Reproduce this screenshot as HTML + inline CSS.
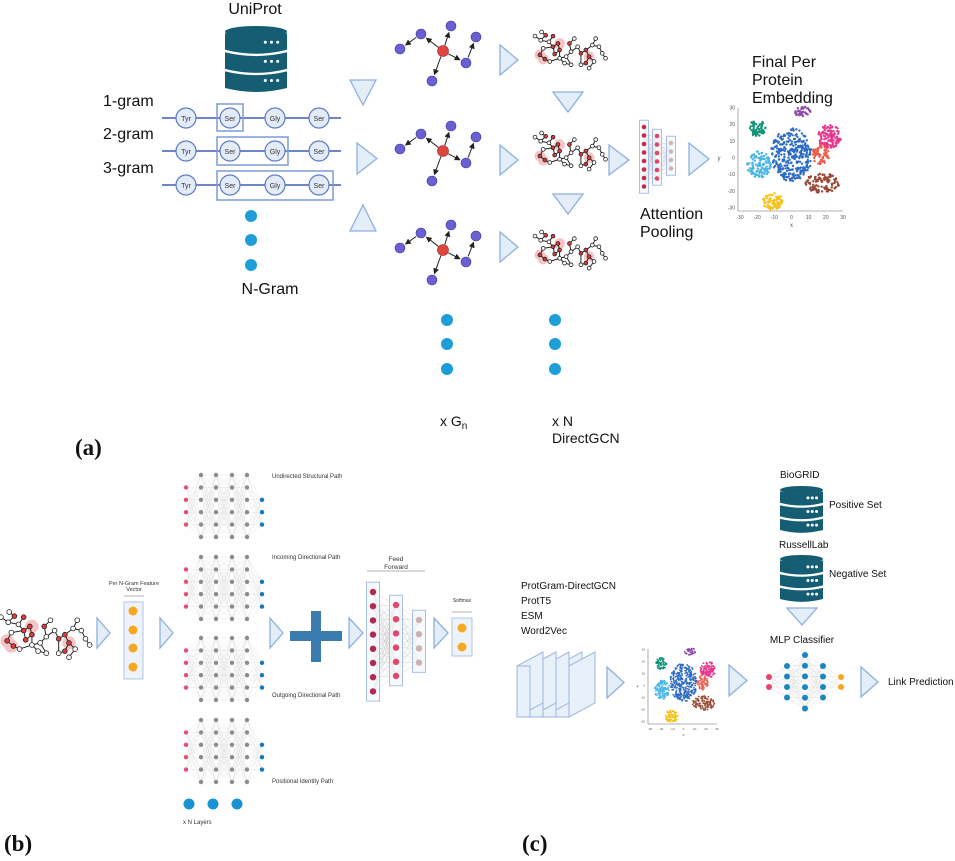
<!DOCTYPE html>
<html><head><meta charset="utf-8"><style>
html,body{margin:0;padding:0;background:#fff;}
svg{display:block;font-family:"Liberation Sans",sans-serif;}
</style></head><body>
<svg id="s" width="955" height="861" viewBox="0 0 955 861" xmlns="http://www.w3.org/2000/svg">
<defs>
<marker id="ar" markerWidth="6" markerHeight="6" refX="5" refY="3" orient="auto"><path d="M0,0 L6,3 L0,6 z" fill="#222"/></marker>
</defs>
<g id="g"></g>
<text x="255" y="14" font-size="16" text-anchor="middle" fill="#111">UniProt</text>
<text x="103" y="106" font-size="16" fill="#111">1-gram</text>
<text x="103" y="139" font-size="16" fill="#111">2-gram</text>
<text x="103" y="173" font-size="16" fill="#111">3-gram</text>
<text x="270" y="294" font-size="16" text-anchor="middle" fill="#111">N-Gram</text>
<text x="752" y="67" font-size="16" fill="#111">Final Per</text>
<text x="752" y="85" font-size="16" fill="#111">Protein</text>
<text x="752" y="103" font-size="16" fill="#111">Embedding</text>
<text x="640" y="219" font-size="16" fill="#111">Attention</text>
<text x="640" y="237" font-size="16" fill="#111">Pooling</text>
<text x="440" y="426" font-size="14" fill="#111">x G<tspan font-size="10" dy="3">n</tspan></text>
<text x="552" y="426" font-size="14" fill="#111">x N</text>
<text x="552" y="443" font-size="14" fill="#111">DirectGCN</text>
<text x="75" y="455" font-size="23" font-weight="bold" font-family="Liberation Serif,serif" fill="#111">(a)</text>
<text x="4" y="851" font-size="23" font-weight="bold" font-family="Liberation Serif,serif" fill="#111">(b)</text>
<text x="522" y="851" font-size="23" font-weight="bold" font-family="Liberation Serif,serif" fill="#111">(c)</text>
<text x="134" y="585" font-size="5.5" text-anchor="middle" fill="#333">Per N-Gram Feature</text>
<text x="134" y="591" font-size="5.5" text-anchor="middle" fill="#333">Vector</text>
<text x="272" y="478" font-size="6" fill="#333">Undirected Structural Path</text>
<text x="272" y="559" font-size="6" fill="#333">Incoming Directional Path</text>
<text x="272" y="697" font-size="6" fill="#333">Outgoing Directional Path</text>
<text x="272" y="783" font-size="6" fill="#333">Positional Identity Path</text>
<text x="183" y="824" font-size="6" fill="#333">x N Layers</text>
<text x="396" y="561" font-size="6.5" text-anchor="middle" fill="#333">Feed</text>
<text x="396" y="569" font-size="6.5" text-anchor="middle" fill="#333">Forward</text>
<text x="462" y="602" font-size="5" text-anchor="middle" fill="#333">Softmax</text>
<text x="521" y="589" font-size="10" fill="#111">ProtGram-DirectGCN</text>
<text x="521" y="604" font-size="10" fill="#111">ProtT5</text>
<text x="521" y="619" font-size="10" fill="#111">ESM</text>
<text x="521" y="634" font-size="10" fill="#111">Word2Vec</text>
<text x="780" y="478" font-size="10" fill="#111">BioGRID</text>
<text x="779" y="548" font-size="10" fill="#111">RussellLab</text>
<text x="829" y="508" font-size="10" fill="#111">Positive Set</text>
<text x="829" y="577" font-size="10" fill="#111">Negative Set</text>
<text x="802" y="643" font-size="10" text-anchor="middle" fill="#111">MLP Classifier</text>
<text x="888" y="685" font-size="10" fill="#111">Link Prediction</text>
</svg>
<script>
var G=document.getElementById('g'),NS='http://www.w3.org/2000/svg';
function el(t,a,p){var e=document.createElementNS(NS,t);for(var k in a)e.setAttribute(k,a[k]);(p||G).appendChild(e);return e;}
function circ(x,y,r,f,s,sw){return el('circle',{cx:x,cy:y,r:r,fill:f,stroke:s||'none','stroke-width':sw||1});}
function line(a,b,c,d,s,w,m){var o={x1:a,y1:b,x2:c,y2:d,stroke:s,'stroke-width':w||1};if(m)o['marker-end']='url(#ar)';return el('line',o);}
function tri(pts){el('polygon',{points:pts,fill:'#e4eef9',stroke:'#8eb0dc','stroke-width':1.3});}
function triR(x,y,w,h){tri(x+','+y+' '+(x+w)+','+(y+h/2)+' '+x+','+(y+h));}
function triD(x,y,w,h){tri(x+','+y+' '+(x+w)+','+y+' '+(x+w/2)+','+(y+h));}
function triU(x,y,w,h){tri(x+','+(y+h)+' '+(x+w)+','+(y+h)+' '+(x+w/2)+','+y);}
var seed=7;function rnd(){seed=(seed*16807)%2147483647;return seed/2147483647;}
function db(x,y,w,h){var c='#155d72',ry=h*0.09,top=y+ry,lh=(h-ry)/3;
for(var i=0;i<3;i++){var yy=top+i*lh;
el('path',{d:'M'+x+','+(yy+1.5)+' Q'+(x+w/2)+','+(yy+ry*1.6)+' '+(x+w)+','+(yy+1.5)+' L'+(x+w)+','+(yy+lh-1)+' Q'+(x+w/2)+','+(yy+lh-1+ry*1.4)+' '+x+','+(yy+lh-1)+' Z',fill:c});
for(var j=0;j<3;j++)circ(x+w*0.65+j*w*0.1,yy+lh/2+1,1.5,'#fff');}
el('ellipse',{cx:x+w/2,cy:top,rx:w/2,ry:ry,fill:c});}
db(225,26,62,63);
var rows=[118,151,185],labs=['Tyr','Ser','Gly','Ser'],xs=[186,230,275,319];
rows.forEach(function(y){line(162,y,341,y,'#3f5fb5',1.5);xs.forEach(function(x,i){circ(x,y,10,'#e3ebf8','#5c7ac4',1.2);var t=el('text',{x:x,y:y+3,'font-size':7,'text-anchor':'middle',fill:'#333'});t.textContent=labs[i];});});
el('rect',{x:217,y:104,width:26,height:27,fill:'none',stroke:'#7d9ad6','stroke-width':1.5});
el('rect',{x:217,y:137,width:71,height:28,fill:'none',stroke:'#7d9ad6','stroke-width':1.5});
el('rect',{x:217,y:171,width:116,height:29,fill:'none',stroke:'#7d9ad6','stroke-width':1.5});
[216,240,265].forEach(function(y){circ(251,y,6,'#1c9fd8');});
[320,344,369].forEach(function(y){circ(447,y,6,'#1c9fd8');circ(555,y,6,'#1c9fd8');});
triD(350,80,26,25);triR(357,143,20,31);triU(350,205,26,26);
[45,145,232].forEach(function(y){triR(500,y,18,30);});
triD(553,92,30,20);triD(553,194,30,20);
triR(609,145,20,30);triR(689,143,20,32);
function dg(cx,cy){var n=[[-22,-17],[-43,-2],[8,-25],[33,-14],[23,12],[-11,30]];
var e=[[-1,0],[0,1],[-1,2],[-1,4],[4,3],[-1,5]];
e.forEach(function(p){var a=p[0]<0?[0,0]:n[p[0]],b=n[p[1]];var dx=b[0]-a[0],dy=b[1]-a[1],L=Math.sqrt(dx*dx+dy*dy);
line(cx+a[0]+dx/L*6,cy+a[1]+dy/L*6,cx+b[0]-dx/L*7,cy+b[1]-dy/L*7,'#222',1,true);});
n.forEach(function(p){circ(cx+p[0],cy+p[1],5,'#6a5fd3','#3d3595',0.6);});circ(cx,cy,5.5,'#e0463f','#9a2a25',0.6);}
dg(443,51);dg(443,151);dg(443,250);
function mol(ox,oy,s){var N=[[0,5],[7,10],[13,4],[8,0],[17,12],[22,5],[22,18],[28,14],[30,22],[24,27],[10,20],[6,28],[12,33],[18,36],[30,32],[38,30],[44,24],[42,14],[48,8],[52,18],[56,26],[62,22],[66,30],[62,38],[56,40],[70,16],[74,8],[78,18],[72,36],[66,44],[82,26],[86,32],[36,38],[44,40]];
var E=[[0,1],[1,2],[2,3],[1,4],[4,5],[4,6],[6,7],[7,8],[8,9],[9,6],[6,10],[10,11],[11,12],[12,13],[13,14],[14,15],[15,16],[16,17],[17,18],[16,19],[19,20],[20,21],[21,22],[22,23],[23,24],[24,20],[21,25],[25,26],[25,27],[22,28],[28,29],[27,30],[30,31],[14,32],[32,33],[15,33],[8,14]];
[[6,28],[30,14],[66,30],[10,33]].forEach(function(p){circ(ox+p[0]*s,oy+p[1]*s,6.5*s,'#f5c4c4');});
E.forEach(function(p){line(ox+N[p[0]][0]*s,oy+N[p[0]][1]*s,ox+N[p[1]][0]*s,oy+N[p[1]][1]*s,'#222',1);});
var red={5:1,6:1,7:1,8:1,9:1,11:1,12:1,17:1,21:1,22:1,23:1,20:1,2:1};
N.forEach(function(p,i){circ(ox+p[0]*s,oy+p[1]*s,2.3*s,red[i]?'#e03b3b':'#fff','#222',0.8);});}
mol(535,32,0.82);mol(535,133,0.82);mol(535,232,0.82);mol(1,612,1.03);
function ffnet(cols,bw,r){cols.forEach(function(c,i){if(i<cols.length-1){var d=cols[i+1];c.ys.forEach(function(y){d.ys.forEach(function(y2){line(c.x,y,d.x,y2,'#ccc',0.4);});});}});
cols.forEach(function(c){var y0=c.ys[0],y1=c.ys[c.ys.length-1];el('rect',{x:c.x-bw/2,y:y0-bw*0.75,width:bw,height:y1-y0+bw*1.5,fill:'#f2f6fc',stroke:'#a8c0e4','stroke-width':1,'fill-opacity':0.6});c.ys.forEach(function(y){circ(c.x,y,r,c.c);});});}
function rng(a,n,st){var o=[];for(var i=0;i<n;i++)o.push(a+i*st);return o;}
ffnet([{x:644,ys:rng(127,8,8.5),c:'#c8294a'},{x:657,ys:rng(136,6,8.5),c:'#e6456a'},{x:671,ys:rng(143,4,8.5),c:'#cfb5b5'}],9,2.3);
function scatter(x0,y0,w,h,big){var sx=function(v){return x0+(v+30)/60*w},sy=function(v){return y0+h-(v+30)/60*h};
line(x0-2,y0,x0-2,y0+h+3,'#999',0.8);line(x0-2,y0+h+3,x0+w,y0+h+3,'#999',0.8);
var fs=big?5:3;[-30,-20,-10,0,10,20,30].forEach(function(v){var t=el('text',{x:x0-5,y:sy(v)+1.5,'font-size':fs,'text-anchor':'end',fill:'#555'});t.textContent=v;t=el('text',{x:sx(v),y:y0+h+3+fs+3,'font-size':fs,'text-anchor':'middle',fill:'#555'});t.textContent=v;});
var t=el('text',{x:sx(0),y:y0+h+fs*2+9,'font-size':fs+1,'text-anchor':'middle',fill:'#555'});t.textContent='x';
t=el('text',{x:x0-fs*4.5,y:y0+h/2+2,'font-size':fs+1,fill:'#555'});t.textContent='y';
var cl=[[-20,18,5,5,'#13937a',60],[6,28,5,3,'#8e4aa8',35],[22,13,7,7,'#e8358c',110],[0,2,12,16,'#2f6cc4',330],[17,2,5,6,'#ec5a48',60],[-19,-4,7,8,'#4ab6e8',120],[18,-15,10,6,'#9a4a36',110],[-11,-26,6,5,'#f2c21a',70]];
var r=big?1.2:0.9;cl.forEach(function(c){for(var i=0;i<c[5];i++){var a=rnd()*6.283,d=Math.sqrt(rnd());circ(sx(c[0]+Math.cos(a)*d*c[2]),sy(c[1]+Math.sin(a)*d*c[3]),r,c[4]);}});}
scatter(740,108,103,100,true);scatter(650,649,67,72,false);
triR(97,618,13,30);
el('rect',{x:124,y:602,width:19,height:77,fill:'#eef3fb',stroke:'#b0c6e6'});
[611,630,648,667].forEach(function(y){circ(133,y,4.5,'#f7a823');});
line(124,596,144,596,'#666',0.6);
triR(160,618,13,30);
function pnet(y0){var xs=[201,216,232,247],gy=rng(y0,6,12.4),py=rng(y0+12.4,4,12.4),by=rng(y0+24.8,3,12.4);
var cols=[{x:186,ys:py,c:'#ea4d74'}].concat(xs.map(function(x){return{x:x,ys:gy,c:'#8b8b8b'}})).concat([{x:262,ys:by,c:'#1578b8'}]);
cols.forEach(function(c,i){if(i<cols.length-1){var d=cols[i+1];c.ys.forEach(function(y){d.ys.forEach(function(y2){line(c.x,y,d.x,y2,'#ddd',0.35);});});}});
cols.forEach(function(c){c.ys.forEach(function(y){circ(c.x,y,2.2,c.c);});});}
pnet(475);pnet(557);pnet(638);pnet(720);
[189,213,237].forEach(function(x){circ(x,804,5.5,'#1a93d2');});
triR(270,618,13,30);
el('rect',{x:290,y:631,width:52,height:10,fill:'#3a7bb0'});el('rect',{x:311,y:611,width:10,height:51,fill:'#3a7bb0'});
triR(349,618,14,30);
line(367,571,425,571,'#666',0.6);
ffnet([{x:373,ys:rng(592,8,14.2),c:'#b2294b'},{x:396,ys:rng(605,6,14.2),c:'#e8456d'},{x:419,ys:rng(620,4,14.2),c:'#cfb0b2'}],13,3.2);
triR(434,618,14,30);
line(452,612,472,612,'#666',0.6);
el('rect',{x:452,y:618,width:20,height:38,fill:'#eef3fb',stroke:'#b0c6e6'});
circ(462,628,4.5,'#f7a823');circ(462,647,4.5,'#f7a823');
for(var i=3;i>=0;i--){var x=517+i*13;el('polygon',{points:x+','+666+' '+(x+26)+','+652+' '+(x+26)+','+703+' '+x+','+717,fill:'#e8f0fa',stroke:'#9cb9e0','stroke-width':1});el('rect',{x:x,y:666,width:13,height:51,fill:'#e8f0fa',stroke:'#9cb9e0','stroke-width':1});}
el('polygon',{points:'569,666 595,652 595,703 569,717',fill:'#e8f0fa',stroke:'#9cb9e0','stroke-width':1});
triR(607,667,17,31);triR(729,665,18,31);
db(780,486,43,45);db(780,555,43,45);
triD(787,608,30,17);
var mc=[{x:769,ys:[677,687],c:'#e8456a'},{x:787,ys:rng(666,4,10.5),c:'#1a86c2'},{x:805,ys:rng(655,6,10.7),c:'#1a86c2'},{x:823,ys:rng(666,4,10.5),c:'#1a86c2'},{x:841,ys:[677,687],c:'#f6a823'}];
mc.forEach(function(c,i){if(i<mc.length-1){var d=mc[i+1];c.ys.forEach(function(y){d.ys.forEach(function(y2){line(c.x,y,d.x,y2,'#ddd',0.5);});});}});
mc.forEach(function(c){c.ys.forEach(function(y){circ(c.x,y,3,c.c);});});
triR(861,667,17,30);
</script>
</body></html>
